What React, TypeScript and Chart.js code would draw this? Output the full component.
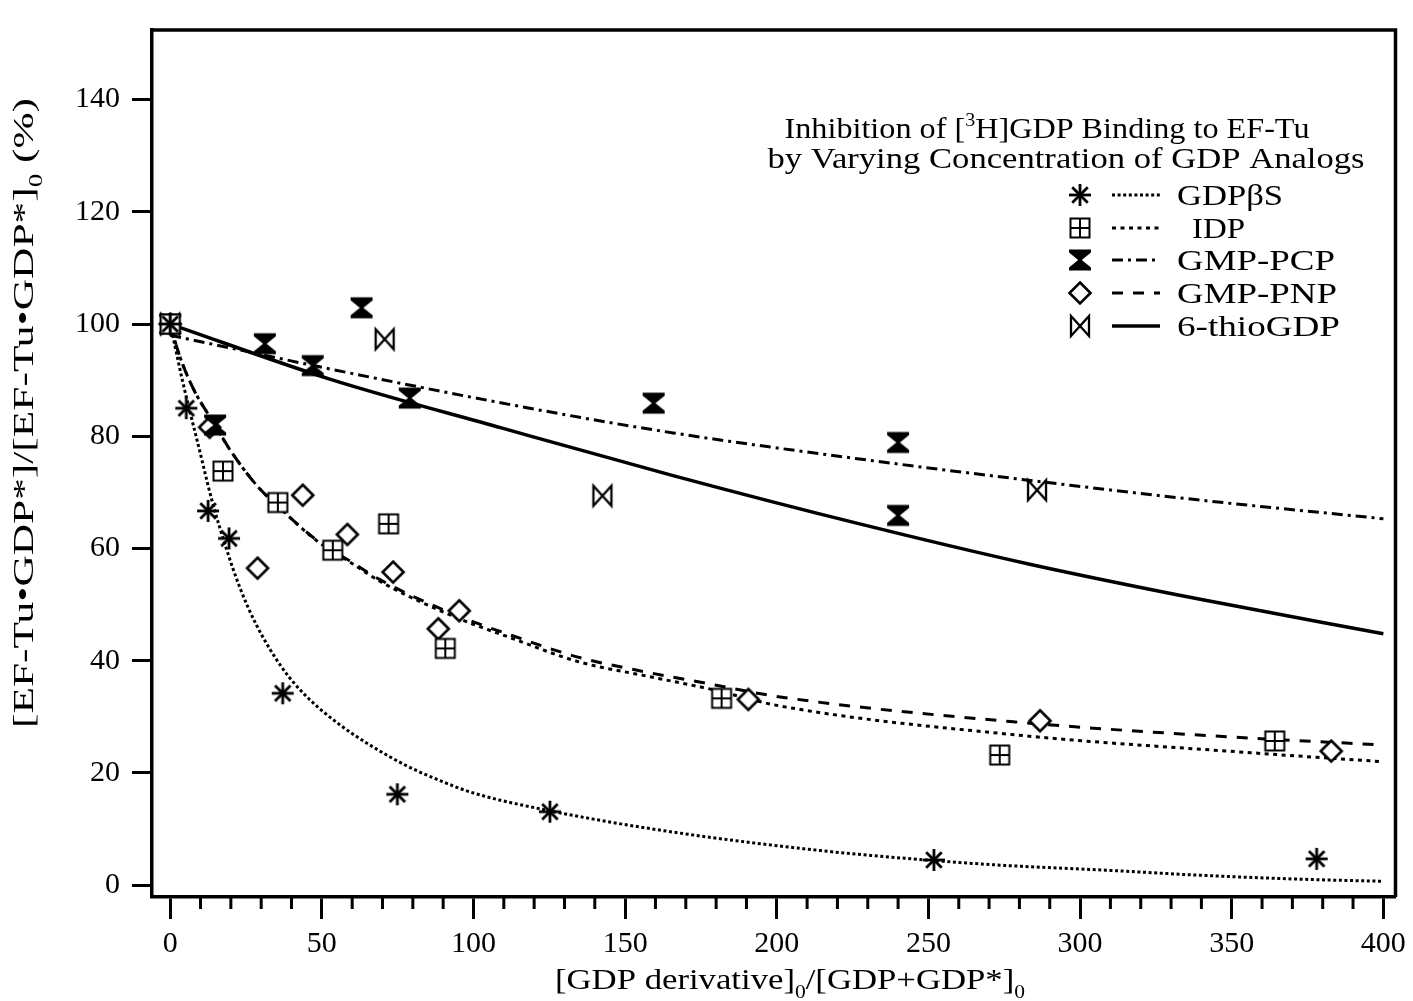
import React, { useEffect, useRef } from "react";
import { Chart, registerables } from "chart.js";
Chart.register(...registerables);

const FONT = '"Liberation Serif", "Times New Roman", serif';

// Axis ticks
const xTicks = [0, 50, 100, 150, 200, 250, 300, 350, 400];
const yTicks = [0, 20, 40, 60, 80, 100, 120, 140];
const xMinorStep = 10;

// Measured points
const gdpbsX = [0, 5.3, 12.5, 19.4, 37.1, 74.9, 125.2, 251.8, 378];
const gdpbsY = [100, 85.0, 66.7, 61.8, 34.2, 16.2, 13.1, 4.5, 4.7];
const idpX = [0, 17.4, 35.5, 53.6, 72.0, 90.7, 181.8, 273.5, 364.2];
const idpY = [100, 73.8, 68.2, 59.7, 64.4, 42.2, 33.3, 23.2, 25.7];
const pcpX = [0, 14.8, 31.2, 47.0, 63.1, 79.0, 159.4, 240, 240];
const pcpY = [100, 82.0, 96.5, 92.6, 102.9, 86.8, 85.9, 78.9, 65.9];
const pnpX = [0, 13.0, 28.8, 43.7, 58.4, 73.5, 88.4, 95.3, 190.6, 286.8, 382.8];
const pnpY = [100, 81.6, 56.5, 69.5, 62.5, 55.8, 45.7, 48.9, 33.1, 29.3, 23.9];
const thioX = [0, 70.7, 142.5, 285.8];
const thioY = [100, 97.3, 69.4, 70.4];

// Fitted curves
const gdpbsFitX = [0, 2, 4, 6, 9, 13.8, 18.5, 23, 28.6, 37.1, 45, 55.9, 66.7, 77.9, 88.7, 99.6, 125.7, 165.4, 215.7, 251.5, 272.8, 311.3, 338.5, 376.9, 400];
const gdpbsFitY = [100, 95, 90, 85.5, 79, 68.5, 60, 53, 46.2, 38.6, 33.6, 28.6, 24.7, 21.3, 18.7, 16.5, 13.2, 9.5, 6.1, 4.4, 3.6, 2.6, 1.8, 1.0, 0.7];
const idpFitX = [0, 3, 7.6, 14.8, 19.7, 28.6, 36.2, 48.3, 60.1, 69, 93, 112.7, 134.8, 156.8, 178.5, 200.5, 278.5, 356.5, 400];
const idpFitY = [100, 94.5, 88.5, 82, 77.6, 71.2, 67.2, 61.4, 57.3, 54.2, 48, 44, 39.8, 37.3, 34.9, 32.0, 26.8, 23.6, 22.0];
const pnpFitX = [0, 3, 7.6, 14.8, 19.7, 28.6, 36.2, 48.3, 60.1, 69, 93, 112.7, 134.8, 156.8, 178.5, 200.5, 278.5, 356.5, 400];
const pnpFitY = [100, 94.5, 88.5, 82, 77.6, 71.2, 67.2, 61.5, 57.5, 54.5, 48.4, 44.5, 40.6, 38.0, 35.8, 33.6, 29.1, 26.2, 25.0];
const pcpFitX = [0, 26.3, 52.6, 120.5, 165.8, 228, 285.6, 340, 400];
const pcpFitY = [98, 95.0, 92.0, 84.8, 80.6, 75.9, 72.0, 68.6, 65.3];
const thioFitX = [0, 52.6, 109.2, 165.8, 228, 283.4, 340, 400];
const thioFitY = [100, 90.2, 81.5, 73.0, 64.3, 57.2, 50.9, 44.8];

// Text
const legendNames = ["GDP\u03b2S", "IDP", "GMP-PCP", "GMP-PNP", "6-thioGDP"];
const legendMarkers = ["asterisk", "boxplus", "hourglass", "diamond", "bowtie"];

type Seg = { t: string; sub?: boolean; sup?: boolean };

const xTitle: Seg[] = [{ t: "[GDP derivative]" }, { t: "0", sub: true }, { t: "/[GDP+GDP*]" }, { t: "0", sub: true }];
const yTitle: Seg[] = [{ t: "[EF-Tu\u2022GDP*]/[EF-Tu\u2022GDP*]" }, { t: "0", sub: true }, { t: " (%)" }];
const legendTitle1: Seg[] = [{ t: "Inhibition of [" }, { t: "3", sup: true }, { t: "H]GDP Binding to EF-Tu" }];
const legendTitle2: Seg[] = [{ t: "by Varying Concentration of GDP Analogs" }];

const dashes: Record<string, number[]> = {
  gdpbs: [3, 2.6],
  idp: [4, 4.5],
  pcp: [11, 5, 3, 5],
  pnp: [11, 10],
  thio: [],
};

function pts(xs: number[], ys: number[]) {
  return xs.map((x, i) => ({ x, y: ys[i] }));
}

function makeMarker(kind: string): HTMLCanvasElement {
  const c = document.createElement("canvas");
  c.width = 28;
  c.height = 28;
  const g = c.getContext("2d")!;
  g.translate(14, 14);
  g.strokeStyle = "#000";
  g.fillStyle = "#000";
  if (kind === "asterisk") {
    g.lineWidth = 2.8;
    for (let k = 0; k < 4; k++) {
      const a = (k * Math.PI) / 4;
      const r = 11;
      g.beginPath();
      g.moveTo(-r * Math.cos(a), -r * Math.sin(a));
      g.lineTo(r * Math.cos(a), r * Math.sin(a));
      g.stroke();
    }
  } else if (kind === "boxplus") {
    g.fillStyle = "#fff";
    g.fillRect(-9.5, -9.5, 19, 19);
    g.lineWidth = 2;
    g.strokeRect(-9.5, -9.5, 19, 19);
    g.beginPath();
    g.moveTo(0, -9.5);
    g.lineTo(0, 9.5);
    g.moveTo(-9.5, 0);
    g.lineTo(9.5, 0);
    g.stroke();
  } else if (kind === "hourglass") {
    g.beginPath();
    g.moveTo(-11, -10.5);
    g.lineTo(11, -10.5);
    g.lineTo(11, -7.5);
    g.lineTo(1.8, 0);
    g.lineTo(11, 7.5);
    g.lineTo(11, 10.5);
    g.lineTo(-11, 10.5);
    g.lineTo(-11, 7.5);
    g.lineTo(-1.8, 0);
    g.lineTo(-11, -7.5);
    g.closePath();
    g.fill();
  } else if (kind === "diamond") {
    g.beginPath();
    g.moveTo(0, -10.5);
    g.lineTo(10.5, 0);
    g.lineTo(0, 10.5);
    g.lineTo(-10.5, 0);
    g.closePath();
    g.fillStyle = "#fff";
    g.fill();
    g.lineWidth = 2.6;
    g.stroke();
  } else if (kind === "bowtie") {
    g.beginPath();
    g.moveTo(-9, -10);
    g.lineTo(-9, 10);
    g.lineTo(9, -10);
    g.lineTo(9, 10);
    g.closePath();
    g.fillStyle = "#fff";
    g.fill();
    g.lineWidth = 2.3;
    g.lineJoin = "miter";
    g.stroke();
  }
  return c;
}

function drawRich(
  ctx: CanvasRenderingContext2D,
  segs: Seg[],
  x: number,
  y: number,
  size: number,
  targetW: number,
  align: "left" | "center"
) {
  const small = size * 0.62;
  let natural = 0;
  const ws = segs.map((s) => {
    ctx.font = `${s.sub || s.sup ? small : size}px ${FONT}`;
    const w = ctx.measureText(s.t).width;
    natural += w;
    return w;
  });
  const sx = targetW > 0 ? targetW / natural : 1;
  const total = natural * sx;
  const start = align === "center" ? x - total / 2 : x;
  ctx.save();
  ctx.translate(start, y);
  ctx.scale(sx, 1);
  ctx.textAlign = "left";
  ctx.textBaseline = "alphabetic";
  ctx.fillStyle = "#000";
  let cx = 0;
  segs.forEach((s, i) => {
    ctx.font = `${s.sub || s.sup ? small : size}px ${FONT}`;
    const dy = s.sub ? size * 0.3 : s.sup ? -size * 0.42 : 0;
    ctx.fillText(s.t, cx, dy);
    cx += ws[i];
  });
  ctx.restore();
}

export default function App() {
  const ref = useRef<HTMLCanvasElement>(null);
  useEffect(() => {
    document.body.style.margin = "0";
    const mk: Record<string, HTMLCanvasElement> = {};
    legendMarkers.forEach((k) => (mk[k] = makeMarker(k)));

    const fit = (data: any[], dash: number[], width: number) => ({
      data,
      showLine: true,
      borderColor: "#000",
      borderWidth: width,
      borderDash: dash,
      pointRadius: 0,
      fill: false,
      cubicInterpolationMode: "monotone" as const,
      order: 1,
    });
    const marks = (data: any[], style: HTMLCanvasElement) => ({
      data,
      showLine: false,
      pointStyle: style,
      pointRadius: 11,
      order: 0,
    });

    const deco = {
      id: "deco",
      beforeDraw(chart: any) {
        const c = chart.ctx;
        c.save();
        c.fillStyle = "#fff";
        c.fillRect(0, 0, chart.width, chart.height);
        c.restore();
      },
      afterDraw(chart: any) {
        const c: CanvasRenderingContext2D = chart.ctx;
        const a = chart.chartArea;
        const xs = chart.scales.x;
        c.save();
        c.strokeStyle = "#000";
        c.lineWidth = 3.5;
        c.beginPath();
        c.moveTo(a.left, a.top);
        c.lineTo(a.right, a.top);
        c.lineTo(a.right, a.bottom);
        c.stroke();
        // minor ticks
        c.lineWidth = 3;
        for (let v = 0; v <= 400; v += xMinorStep) {
          if (xTicks.includes(v)) continue;
          const px = xs.getPixelForValue(v);
          c.beginPath();
          c.moveTo(px, a.bottom);
          c.lineTo(px, a.bottom + 12);
          c.stroke();
        }
        // axis titles
        drawRich(c, xTitle, 790, 989, 30, 470, "center");
        c.save();
        c.translate(33, 413);
        c.rotate(-Math.PI / 2);
        drawRich(c, yTitle, 0, 0, 30, 630, "center");
        c.restore();
        // legend
        drawRich(c, legendTitle1, 1047, 138, 29, 525, "center");
        drawRich(c, legendTitle2, 1066, 168, 29, 597, "center");
        const rows = [195, 228, 260, 293, 326];
        const widths = [106, 53, 158, 160, 163];
        const lefts = [1177, 1192, 1177, 1177, 1177];
        const keys = ["gdpbs", "idp", "pcp", "pnp", "thio"];
        rows.forEach((ry, i) => {
          const img = mk[legendMarkers[i]];
          c.drawImage(img, 1080 - img.width / 2, ry - img.height / 2);
          c.save();
          c.lineWidth = i === 4 ? 3.5 : 3;
          c.setLineDash(dashes[keys[i]]);
          c.beginPath();
          c.moveTo(1112, ry);
          c.lineTo(1160, ry);
          c.stroke();
          c.restore();
          drawRich(c, [{ t: legendNames[i] }], lefts[i], ry + 10, 30, widths[i], "left");
        });
        c.restore();
      },
    };

    const chart = new Chart(ref.current!, {
      type: "scatter",
      data: {
        datasets: [
          marks(pts(gdpbsX, gdpbsY), mk.asterisk),
          marks(pts(idpX, idpY), mk.boxplus),
          marks(pts(pcpX, pcpY), mk.hourglass),
          marks(pts(pnpX, pnpY), mk.diamond),
          marks(pts(thioX, thioY), mk.bowtie),
          fit(pts(gdpbsFitX, gdpbsFitY), dashes.gdpbs, 3),
          fit(pts(idpFitX, idpFitY), dashes.idp, 3),
          fit(pts(pcpFitX, pcpFitY), dashes.pcp, 3),
          fit(pts(pnpFitX, pnpFitY), dashes.pnp, 3),
          fit(pts(thioFitX, thioFitY), dashes.thio, 3.5),
        ] as any,
      },
      options: {
        responsive: false,
        animation: false,
        devicePixelRatio: 1,
        layout: { padding: { left: 0, top: 12, right: 13, bottom: 0 } },
        plugins: { legend: { display: false }, tooltip: { enabled: false } },
        scales: {
          x: {
            type: "linear",
            min: -6,
            max: 404,
            afterBuildTicks: (s: any) => {
              s.ticks = xTicks.map((v) => ({ value: v }));
            },
            afterFit: (s: any) => {
              s.height = 104;
            },
            ticks: { font: { family: FONT, size: 30 }, color: "#000", padding: 7, maxRotation: 0, autoSkip: false },
            grid: { display: true, drawOnChartArea: false, drawTicks: true, tickLength: 22, tickWidth: 3, tickColor: "#000" },
            border: { display: true, color: "#000", width: 3.5 },
          },
          y: {
            type: "linear",
            min: -2.1,
            max: 152.4,
            afterBuildTicks: (s: any) => {
              s.ticks = yTicks.map((v) => ({ value: v }));
            },
            afterFit: (s: any) => {
              s.width = 152;
            },
            ticks: { font: { family: FONT, size: 30 }, color: "#000", padding: 12, autoSkip: false },
            grid: { display: true, drawOnChartArea: false, drawTicks: true, tickLength: 20, tickWidth: 3, tickColor: "#000" },
            border: { display: true, color: "#000", width: 3.5 },
          },
        },
      } as any,
      plugins: [deco],
    });
    return () => chart.destroy();
  }, []);
  return (
    <div style={{ width: 1413, height: 1001, background: "#fff" }}>
      <canvas ref={ref} width={1413} height={1001} style={{ display: "block" }} />
    </div>
  );
}
